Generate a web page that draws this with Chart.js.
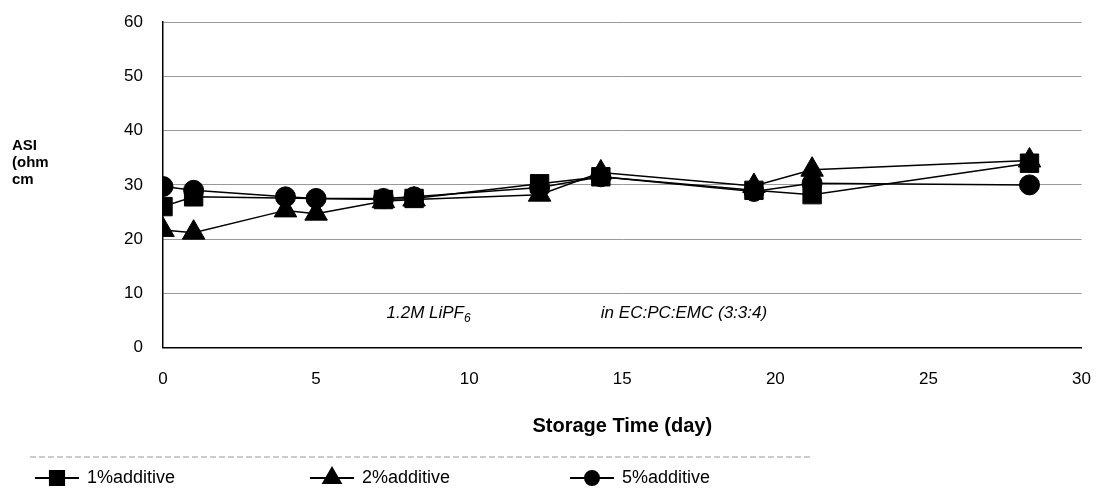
<!DOCTYPE html>
<html><head><meta charset="utf-8">
<script src="https://cdn.jsdelivr.net/npm/chart.js@4/dist/chart.umd.min.js"></script>
<style>html,body{margin:0;background:#fff;overflow:hidden}#w{width:1105px;height:508px;margin-top:-8px}</style>
</head><body><div id="w"><canvas id="c"></canvas></div>
<script>
const seriesNames = ["1%additive","2%additive","5%additive"];
const days1 = [0,1,7.2,8.2,12.3,14.3,19.3,21.2,28.3];
const asi1  = [26,27.8,27.3,27.5,30.2,31.5,29,28.2,34];
const days2 = [0,1,4,5,7.2,8.2,12.3,14.3,19.3,21.2,28.3];
const asi2  = [21.7,21.2,25.3,24.7,27,27.3,28.2,32.3,29.8,32.8,34.5];
const days3 = [0,1,4,5,7.2,8.2,12.3,14.3,19.3,21.2,28.3];
const asi3  = [29.7,29,27.8,27.5,27.5,27.8,29.5,31.5,28.8,30.3,30];
const xTicks = [0,5,10,15,20,25,30];
const yTicks = [0,10,20,30,40,50,60];
const pts=(xs,ys)=>xs.map((x,i)=>({x,y:ys[i]}));
const styles=[{ps:'rect',r:13},{ps:'triangle',r:13},{ps:'circle',r:10}];
const data=[pts(days1,asi1),pts(days2,asi2),pts(days3,asi3)];
const OFF=8;
const extra={id:'extra',afterDraw(ch){
 const c=ch.ctx,x=ch.scales.x,y=ch.scales.y;
 c.save();c.fillStyle='#000';
 c.font='bold 15px Arial, "Liberation Sans"';c.textAlign='left';c.textBaseline='top';
 c.fillText('ASI',12,138+OFF);c.fillText('(ohm',12,155+OFF);c.fillText('cm',12,172+OFF);
 c.font='italic 17px Arial, "Liberation Sans"';c.textBaseline='alphabetic';
 const px=x.getPixelForValue(7.3),py=y.getPixelForValue(5.5);
 c.fillText('1.2M LiPF',px,py);
 const w=c.measureText('1.2M LiPF').width;
 c.font='italic 12px Arial, "Liberation Sans"';c.fillText('6',px+w,py+4);
 c.font='italic 17px Arial, "Liberation Sans"';
 c.fillText('in EC:PC:EMC (3:3:4)',x.getPixelForValue(14.3),py);
 c.strokeStyle='#999';c.setLineDash([6,3]);c.lineWidth=1;
 c.beginPath();c.moveTo(30,457+OFF);c.lineTo(810,457+OFF);c.stroke();c.setLineDash([]);
 const lx=[35,310,570];
 c.font='18px Arial, "Liberation Sans"';c.textBaseline='middle';
 seriesNames.forEach((n,i)=>{
  const cx=lx[i]+22,cy=478+OFF;
  c.strokeStyle='#000';c.fillStyle='#000';c.lineWidth=2;c.beginPath();c.moveTo(lx[i],cy);c.lineTo(lx[i]+44,cy);c.stroke();
  Chart.helpers.drawPoint(c,{pointStyle:styles[i].ps,radius:styles[i].r-3,borderWidth:1},cx,cy);
  c.fillText(n,lx[i]+52,cy);
 });
 c.restore();}};
Chart.defaults.font.family='Arial, "Liberation Sans"';
new Chart(document.getElementById('c'),{type:'scatter',
 data:{datasets:data.map((d,i)=>({label:seriesNames[i],data:d,showLine:true,borderColor:'#000',backgroundColor:'#000',borderWidth:1.5,pointStyle:styles[i].ps,pointRadius:styles[i].r,pointBorderWidth:1}))},
 options:{responsive:true,maintainAspectRatio:false,animation:false,
  layout:{padding:{left:0,right:23,top:0,bottom:0}},
  plugins:{legend:{display:false},tooltip:{enabled:false}},
  scales:{
   x:{type:'linear',min:0,max:30,afterBuildTicks(s){s.ticks=xTicks.map(v=>({value:v}))},
      grid:{display:false},border:{color:'#000',width:1.5},
      ticks:{color:'#000',font:{size:17},padding:14},
      title:{display:true,text:'Storage Time (day)',color:'#000',font:{size:20,weight:'bold'},padding:{top:10,bottom:62}}},
   y:{min:0,max:60,afterBuildTicks(s){s.ticks=yTicks.map(v=>({value:v}))},
      afterFit(s){s.width=163},
      grid:{color:'#999',drawTicks:false},border:{color:'#000',width:1.5},
      ticks:{color:'#000',font:{size:17},padding:20}}
  }},plugins:[extra]});
</script></body></html>
